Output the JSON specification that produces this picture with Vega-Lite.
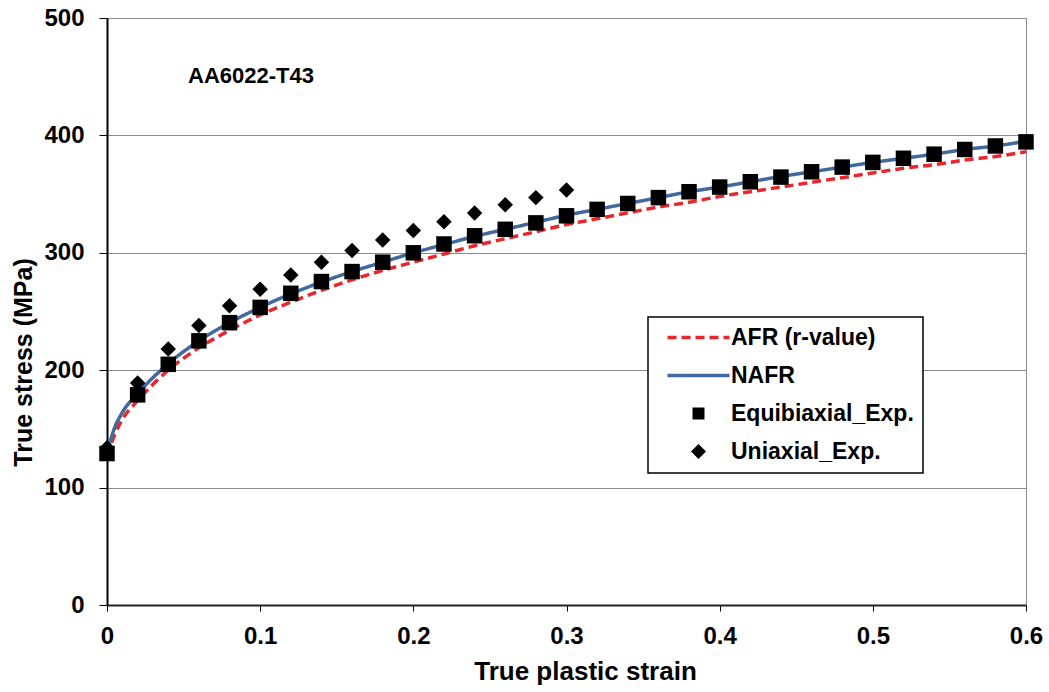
{
  "$schema": "https://vega.github.io/schema/vega-lite/v6.json",
  "width": 919,
  "height": 587,
  "autosize": {"type": "none"},
  "padding": {"left": 107, "top": 18, "right": 23, "bottom": 87},
  "background": "white",
  "config": {"view": {"stroke": "#8c8c8c", "strokeWidth": 1}, "font": "Liberation Sans"},
  "datasets": {
    "curves": [
      {"series": "AFR (r-value)", "strain": 0, "stress": 127},
      {"series": "AFR (r-value)", "strain": 0.005, "stress": 145},
      {"series": "AFR (r-value)", "strain": 0.01, "stress": 158},
      {"series": "AFR (r-value)", "strain": 0.02, "stress": 174},
      {"series": "AFR (r-value)", "strain": 0.04, "stress": 200},
      {"series": "AFR (r-value)", "strain": 0.06, "stress": 219},
      {"series": "AFR (r-value)", "strain": 0.08, "stress": 234},
      {"series": "AFR (r-value)", "strain": 0.1, "stress": 247},
      {"series": "AFR (r-value)", "strain": 0.12, "stress": 258},
      {"series": "AFR (r-value)", "strain": 0.14, "stress": 268},
      {"series": "AFR (r-value)", "strain": 0.16, "stress": 277},
      {"series": "AFR (r-value)", "strain": 0.18, "stress": 285},
      {"series": "AFR (r-value)", "strain": 0.2, "stress": 292},
      {"series": "AFR (r-value)", "strain": 0.22, "stress": 299},
      {"series": "AFR (r-value)", "strain": 0.24, "stress": 306},
      {"series": "AFR (r-value)", "strain": 0.26, "stress": 312},
      {"series": "AFR (r-value)", "strain": 0.28, "stress": 318},
      {"series": "AFR (r-value)", "strain": 0.3, "stress": 324},
      {"series": "AFR (r-value)", "strain": 0.32, "stress": 329},
      {"series": "AFR (r-value)", "strain": 0.34, "stress": 334},
      {"series": "AFR (r-value)", "strain": 0.36, "stress": 339},
      {"series": "AFR (r-value)", "strain": 0.38, "stress": 343},
      {"series": "AFR (r-value)", "strain": 0.4, "stress": 348},
      {"series": "AFR (r-value)", "strain": 0.42, "stress": 352},
      {"series": "AFR (r-value)", "strain": 0.44, "stress": 356},
      {"series": "AFR (r-value)", "strain": 0.46, "stress": 360},
      {"series": "AFR (r-value)", "strain": 0.48, "stress": 364},
      {"series": "AFR (r-value)", "strain": 0.5, "stress": 368},
      {"series": "AFR (r-value)", "strain": 0.52, "stress": 372},
      {"series": "AFR (r-value)", "strain": 0.54, "stress": 375},
      {"series": "AFR (r-value)", "strain": 0.56, "stress": 379},
      {"series": "AFR (r-value)", "strain": 0.58, "stress": 382},
      {"series": "AFR (r-value)", "strain": 0.6, "stress": 386},
      {"series": "NAFR", "strain": 0, "stress": 130},
      {"series": "NAFR", "strain": 0.005, "stress": 151},
      {"series": "NAFR", "strain": 0.01, "stress": 164},
      {"series": "NAFR", "strain": 0.02, "stress": 180},
      {"series": "NAFR", "strain": 0.04, "stress": 205.5},
      {"series": "NAFR", "strain": 0.06, "stress": 225},
      {"series": "NAFR", "strain": 0.08, "stress": 240.5},
      {"series": "NAFR", "strain": 0.1, "stress": 253.5},
      {"series": "NAFR", "strain": 0.12, "stress": 265},
      {"series": "NAFR", "strain": 0.14, "stress": 275},
      {"series": "NAFR", "strain": 0.16, "stress": 284},
      {"series": "NAFR", "strain": 0.18, "stress": 292},
      {"series": "NAFR", "strain": 0.2, "stress": 300},
      {"series": "NAFR", "strain": 0.22, "stress": 307},
      {"series": "NAFR", "strain": 0.24, "stress": 314},
      {"series": "NAFR", "strain": 0.26, "stress": 320},
      {"series": "NAFR", "strain": 0.28, "stress": 326},
      {"series": "NAFR", "strain": 0.3, "stress": 332},
      {"series": "NAFR", "strain": 0.32, "stress": 337},
      {"series": "NAFR", "strain": 0.34, "stress": 342},
      {"series": "NAFR", "strain": 0.36, "stress": 347},
      {"series": "NAFR", "strain": 0.38, "stress": 352},
      {"series": "NAFR", "strain": 0.4, "stress": 356},
      {"series": "NAFR", "strain": 0.42, "stress": 360.5},
      {"series": "NAFR", "strain": 0.44, "stress": 365},
      {"series": "NAFR", "strain": 0.46, "stress": 369},
      {"series": "NAFR", "strain": 0.48, "stress": 373},
      {"series": "NAFR", "strain": 0.5, "stress": 377},
      {"series": "NAFR", "strain": 0.52, "stress": 380.5},
      {"series": "NAFR", "strain": 0.54, "stress": 384},
      {"series": "NAFR", "strain": 0.56, "stress": 388},
      {"series": "NAFR", "strain": 0.58, "stress": 391},
      {"series": "NAFR", "strain": 0.6, "stress": 395}
    ],
    "exp": [
      {"series": "Uniaxial_Exp.", "strain": 0, "stress": 134},
      {"series": "Uniaxial_Exp.", "strain": 0.02, "stress": 189},
      {"series": "Uniaxial_Exp.", "strain": 0.04, "stress": 218},
      {"series": "Uniaxial_Exp.", "strain": 0.06, "stress": 238},
      {"series": "Uniaxial_Exp.", "strain": 0.08, "stress": 255},
      {"series": "Uniaxial_Exp.", "strain": 0.1, "stress": 269},
      {"series": "Uniaxial_Exp.", "strain": 0.12, "stress": 281},
      {"series": "Uniaxial_Exp.", "strain": 0.14, "stress": 292},
      {"series": "Uniaxial_Exp.", "strain": 0.16, "stress": 302},
      {"series": "Uniaxial_Exp.", "strain": 0.18, "stress": 311},
      {"series": "Uniaxial_Exp.", "strain": 0.2, "stress": 319},
      {"series": "Uniaxial_Exp.", "strain": 0.22, "stress": 326.5},
      {"series": "Uniaxial_Exp.", "strain": 0.24, "stress": 334},
      {"series": "Uniaxial_Exp.", "strain": 0.26, "stress": 341},
      {"series": "Uniaxial_Exp.", "strain": 0.28, "stress": 347},
      {"series": "Uniaxial_Exp.", "strain": 0.3, "stress": 353.5},
      {"series": "Equibiaxial_Exp.", "strain": 0, "stress": 129},
      {"series": "Equibiaxial_Exp.", "strain": 0.02, "stress": 179},
      {"series": "Equibiaxial_Exp.", "strain": 0.04, "stress": 205},
      {"series": "Equibiaxial_Exp.", "strain": 0.06, "stress": 225},
      {"series": "Equibiaxial_Exp.", "strain": 0.08, "stress": 240.5},
      {"series": "Equibiaxial_Exp.", "strain": 0.1, "stress": 253.5},
      {"series": "Equibiaxial_Exp.", "strain": 0.12, "stress": 265.5},
      {"series": "Equibiaxial_Exp.", "strain": 0.14, "stress": 275.5},
      {"series": "Equibiaxial_Exp.", "strain": 0.16, "stress": 284},
      {"series": "Equibiaxial_Exp.", "strain": 0.18, "stress": 292},
      {"series": "Equibiaxial_Exp.", "strain": 0.2, "stress": 300},
      {"series": "Equibiaxial_Exp.", "strain": 0.22, "stress": 307.5},
      {"series": "Equibiaxial_Exp.", "strain": 0.24, "stress": 314.5},
      {"series": "Equibiaxial_Exp.", "strain": 0.26, "stress": 320},
      {"series": "Equibiaxial_Exp.", "strain": 0.28, "stress": 325.5},
      {"series": "Equibiaxial_Exp.", "strain": 0.3, "stress": 331.5},
      {"series": "Equibiaxial_Exp.", "strain": 0.32, "stress": 337},
      {"series": "Equibiaxial_Exp.", "strain": 0.34, "stress": 342},
      {"series": "Equibiaxial_Exp.", "strain": 0.36, "stress": 347},
      {"series": "Equibiaxial_Exp.", "strain": 0.38, "stress": 352},
      {"series": "Equibiaxial_Exp.", "strain": 0.4, "stress": 356},
      {"series": "Equibiaxial_Exp.", "strain": 0.42, "stress": 360.5},
      {"series": "Equibiaxial_Exp.", "strain": 0.44, "stress": 364.5},
      {"series": "Equibiaxial_Exp.", "strain": 0.46, "stress": 369},
      {"series": "Equibiaxial_Exp.", "strain": 0.48, "stress": 373},
      {"series": "Equibiaxial_Exp.", "strain": 0.5, "stress": 377},
      {"series": "Equibiaxial_Exp.", "strain": 0.52, "stress": 380.5},
      {"series": "Equibiaxial_Exp.", "strain": 0.54, "stress": 384},
      {"series": "Equibiaxial_Exp.", "strain": 0.56, "stress": 388},
      {"series": "Equibiaxial_Exp.", "strain": 0.58, "stress": 391},
      {"series": "Equibiaxial_Exp.", "strain": 0.6, "stress": 394.5}
    ],
    "notes": [
      {"label": "AA6022-T43", "strain": 0.094, "stress": 445}
    ]
  },
  "layer": [
    {
      "data": {"name": "curves"},
      "mark": {"type": "line", "strokeWidth": 3.5, "interpolate": "monotone"},
      "encoding": {
        "x": {
          "field": "strain", "type": "quantitative",
          "scale": {"domain": [0, 0.6], "nice": false, "zero": false},
          "axis": {
            "values": [0, 0.1, 0.2, 0.3, 0.4, 0.5, 0.6], "format": ".1~f", "grid": false,
            "domainColor": "#222222", "domainWidth": 2, "tickColor": "black", "tickSize": 6, "tickWidth": 1,
            "labelFont": "Liberation Sans", "labelFontWeight": "bold", "labelFontSize": 24, "labelColor": "black",
            "labelPadding": 13, "labelFlush": false, "labelOverlap": false,
            "title": "True plastic strain", "titleFont": "Liberation Sans", "titleFontWeight": "bold",
            "titleFontSize": 26, "titleColor": "black", "titleBaseline": "alphabetic", "titleY": 74, "titleX": 478
          }
        },
        "y": {
          "field": "stress", "type": "quantitative",
          "scale": {"domain": [0, 500], "nice": false},
          "axis": {
            "values": [0, 100, 200, 300, 400, 500], "grid": true, "gridColor": "#8c8c8c", "gridWidth": 1,
            "domainColor": "black", "domainWidth": 2, "tickColor": "black", "tickSize": 8, "tickWidth": 1,
            "labelFont": "Liberation Sans", "labelFontWeight": "bold", "labelFontSize": 24, "labelColor": "black",
            "labelPadding": 15, "labelFlush": false, "labelOverlap": false,
            "title": "True stress (MPa)", "titleFont": "Liberation Sans", "titleFontWeight": "bold",
            "titleFontSize": 25, "titleColor": "black", "titleBaseline": "middle", "titleAlign": "center",
            "titleAngle": -90, "titleX": -84, "titleY": 344
          }
        },
        "color": {
          "field": "series", "type": "nominal",
          "scale": {
            "domain": ["AFR (r-value)", "NAFR", "Equibiaxial_Exp.", "Uniaxial_Exp."],
            "range": ["#e8262b", "#41699e", "black", "black"]
          },
          "legend": {
            "orient": "none", "legendX": 541, "legendY": 299, "title": null, "direction": "vertical",
            "padding": 9, "fillColor": "white", "strokeColor": "black",
            "labelFont": "Liberation Sans", "labelFontWeight": "bold", "labelFontSize": 23, "labelColor": "black",
            "labelLimit": 400, "symbolSize": 900, "symbolOffset": 30, "labelOffset": 21, "rowPadding": 14,
            "encode": {
              "legend": {"update": {"strokeWidth": {"value": 1.5}}},
              "symbols": {
                "update": {
                  "shape": {"signal": "datum.value === 'Equibiaxial_Exp.' ? 'square' : datum.value === 'Uniaxial_Exp.' ? 'diamond' : 'stroke'"},
                  "size": {"signal": "datum.value === 'Equibiaxial_Exp.' ? 144 : datum.value === 'Uniaxial_Exp.' ? 225 : 3844"},
                  "fill": {"signal": "(datum.value === 'Equibiaxial_Exp.' || datum.value === 'Uniaxial_Exp.') ? 'black' : 'transparent'"},
                  "stroke": {"signal": "datum.value === 'AFR (r-value)' ? '#e8262b' : datum.value === 'NAFR' ? '#41699e' : 'black'"},
                  "strokeWidth": {"signal": "(datum.value === 'Equibiaxial_Exp.' || datum.value === 'Uniaxial_Exp.') ? 0 : 3.5"},
                  "strokeDash": {"signal": "datum.value === 'AFR (r-value)' ? [9, 5] : [1, 0]"},
                  "opacity": {"value": 1}
                }
              }
            }
          }
        },
        "strokeDash": {
          "field": "series", "type": "nominal",
          "scale": {"domain": ["AFR (r-value)", "NAFR"], "range": [[9, 5], [1, 0]]},
          "legend": null
        }
      }
    },
    {
      "data": {"name": "exp"},
      "mark": {"type": "point", "filled": true, "opacity": 1, "color": "black", "size": 240, "strokeWidth": 0},
      "encoding": {
        "x": {"field": "strain", "type": "quantitative"},
        "y": {"field": "stress", "type": "quantitative"},
        "shape": {
          "field": "series", "type": "nominal",
          "scale": {"domain": ["Equibiaxial_Exp.", "Uniaxial_Exp."], "range": ["square", "diamond"]},
          "legend": null
        }
      }
    },
    {
      "data": {"name": "notes"},
      "mark": {"type": "text", "font": "Liberation Sans", "fontWeight": "bold", "fontSize": 22, "color": "black", "align": "center", "baseline": "alphabetic"},
      "encoding": {
        "x": {"field": "strain", "type": "quantitative"},
        "y": {"field": "stress", "type": "quantitative"},
        "text": {"field": "label"}
      }
    }
  ]
}
